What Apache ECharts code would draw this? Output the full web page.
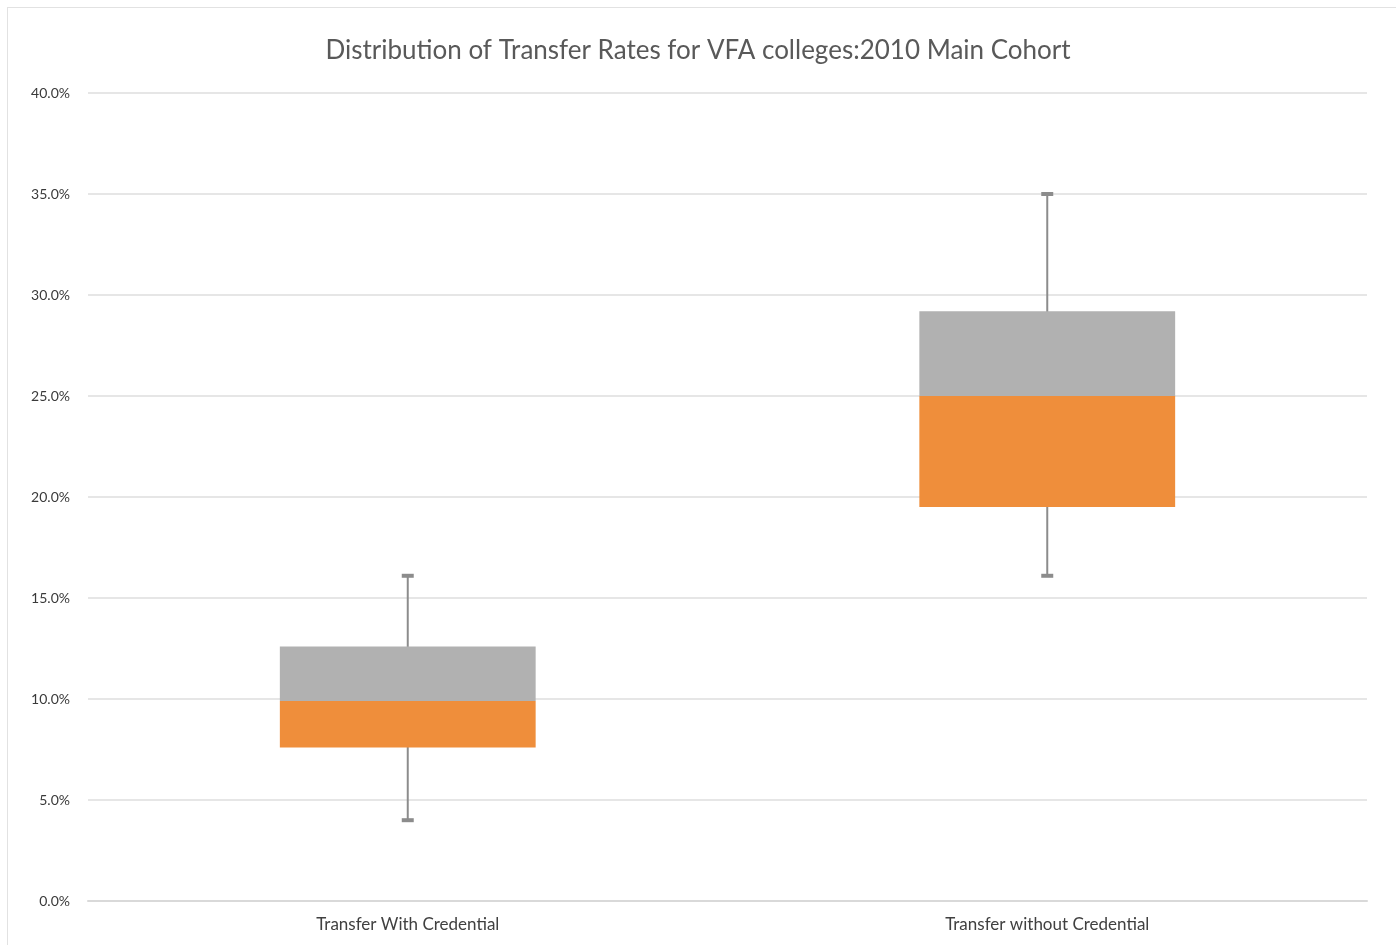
<!DOCTYPE html>
<html>
<head>
<meta charset="utf-8">
<script src="https://cdn.jsdelivr.net/npm/echarts@6/dist/echarts.min.js"></script>
<style>
  html, body { margin: 0; padding: 0; background: #fff; }
  #frame { position: absolute; left: 7px; top: 7px; width: 1400px; height: 950px; border: 1px solid #e2e2e2; box-sizing: border-box; }
  #main { position: absolute; left: 0; top: 0; width: 1396px; height: 945px; }
</style>
</head>
<body>
<div id="frame"></div>
<div id="main"></div>
<script>
const categories = ['Transfer With Credential', 'Transfer without Credential'];
const minVals = [4.0, 16.1];
const q1Vals = [7.6, 19.5];
const medianVals = [9.9, 25.0];
const q3Vals = [12.6, 29.2];
const maxVals = [16.1, 35.0];
const yTicks = { min: 0, max: 40, interval: 5 };

const lowerBox = q1Vals.map((q, i) => +(medianVals[i] - q).toFixed(3));
const upperBox = medianVals.map((m, i) => +(q3Vals[i] - m).toFixed(3));
const whiskerData = categories.map((c, i) => [i, minVals[i], maxVals[i]]);

const chart = echarts.init(document.getElementById('main'), null, { renderer: 'canvas' });
chart.setOption({
  backgroundColor: 'transparent',
  animation: false,
  title: {
    text: 'Distribution of Transfer Rates for VFA colleges:2010 Main Cohort',
    left: 'center',
    top: 33,
    textStyle: { fontFamily: 'Lato', fontSize: 26, fontWeight: 'normal', color: '#595959' }
  },
  grid: { left: 88, right: 29, top: 93, bottom: 44, containLabel: false },
  xAxis: {
    type: 'category',
    data: categories,
    axisLine: { lineStyle: { color: '#d9d9d9', width: 2 } },
    axisTick: { show: false },
    axisLabel: { fontFamily: 'Lato', fontSize: 17, color: '#404040', margin: 15 }
  },
  yAxis: {
    type: 'value',
    min: yTicks.min,
    max: yTicks.max,
    interval: yTicks.interval,
    axisLine: { show: false },
    axisTick: { show: false },
    splitLine: { lineStyle: { color: '#e6e6e6', width: 2 } },
    axisLabel: {
      fontFamily: 'Lato', fontSize: 14, color: '#3a3a3a', margin: 18,
      formatter: v => v.toFixed(1) + '%'
    }
  },
  series: [
    {
      type: 'custom',
      z: 1,
      renderItem: function (params, api) {
        const x = api.value(0);
        const lo = api.coord([x, api.value(1)]);
        const hi = api.coord([x, api.value(2)]);
        const capW = 6;
        return {
          type: 'group',
          children: [
            { type: 'line', shape: { x1: lo[0], y1: lo[1], x2: hi[0], y2: hi[1] }, style: { stroke: '#8c8c8c', lineWidth: 2 } },
            { type: 'line', shape: { x1: lo[0] - capW, y1: lo[1], x2: lo[0] + capW, y2: lo[1] }, style: { stroke: '#8c8c8c', lineWidth: 4 } },
            { type: 'line', shape: { x1: hi[0] - capW, y1: hi[1], x2: hi[0] + capW, y2: hi[1] }, style: { stroke: '#8c8c8c', lineWidth: 4 } }
          ]
        };
      },
      encode: { x: 0, y: [1, 2] },
      data: whiskerData
    },
    {
      name: 'base', type: 'bar', stack: 'box', barWidth: '40%', z: 2,
      itemStyle: { color: 'transparent' },
      data: q1Vals
    },
    {
      name: 'Q1-Median', type: 'bar', stack: 'box', barWidth: '40%', z: 2,
      itemStyle: { color: '#EF8E3B' },
      data: lowerBox
    },
    {
      name: 'Median-Q3', type: 'bar', stack: 'box', barWidth: '40%', z: 2,
      itemStyle: { color: '#B1B1B1' },
      data: upperBox
    }
  ]
});
</script>
</body>
</html>
